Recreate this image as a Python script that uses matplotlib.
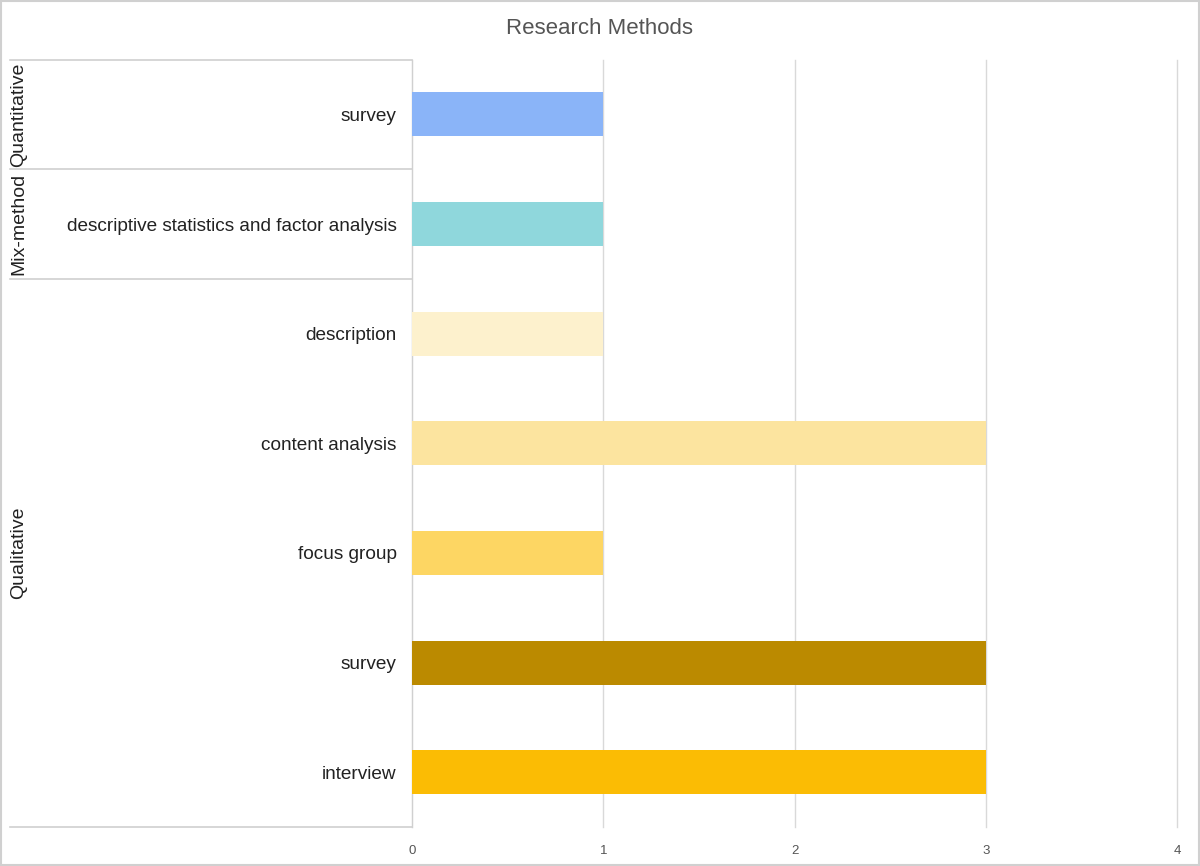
import matplotlib.pyplot as plt
from matplotlib.patches import Rectangle

plt.rcParams['font.family'] = ['Liberation Sans', 'DejaVu Sans']

# data, top to bottom
methods = ['survey', 'descriptive statistics and factor analysis', 'description',
           'content analysis', 'focus group', 'survey', 'interview']
counts = [1, 1, 1, 3, 1, 3, 3]
colors = ['#8ab4f8', '#8fd7dc', '#fdf1cd', '#fce49f', '#fdd663', '#bb8a00', '#fbbc04']
groups = ['Quantitative', 'Mix-method', 'Qualitative']
group_sizes = [1, 1, 5]

fig = plt.figure(figsize=(12, 8.66), dpi=100)
ax = fig.add_axes([0.3433, 0.045, 0.6377, 0.8862])

y = list(range(len(methods)))
ax.barh(y, counts, height=0.4, color=colors, zorder=3)
ax.set_ylim(len(methods) - 0.5, -0.5)
ax.set_xlim(0, 4)
ax.set_xticks([0, 1, 2, 3, 4])
ax.set_yticks(y)
ax.set_yticklabels(methods, fontsize=13.7)
ax.tick_params(axis='y', length=0, pad=11, labelcolor='#222222')
ax.tick_params(axis='x', length=0, pad=13, labelsize=9.5, labelcolor='#555555')
ax.grid(axis='x', color='#d9d9d9', linewidth=1, zorder=0)
for line in ax.get_xgridlines():
    line.set_clip_on(False)
for s in ['top', 'right', 'bottom']:
    ax.spines[s].set_visible(False)
ax.spines['left'].set_color('#d0d0d0')

# group separators and labels on the left
tr = ax.get_yaxis_transform()
x0 = -0.5255
start = -0.5
ax.plot([x0, 0], [start, start], transform=tr, color='#d0d0d0', lw=1.2, clip_on=False)
for g, n in zip(groups, group_sizes):
    end = start + n
    ax.plot([x0, 0], [end, end], transform=tr, color='#d0d0d0', lw=1.2, clip_on=False)
    ax.text(x0 + 0.012, (start + end) / 2, g, transform=tr, rotation=90,
            ha='center', va='center', fontsize=14, color='#222222')
    start = end

fig.text(0.5, 0.967, 'Research Methods', ha='center', va='center', fontsize=16, color='#555555')
fig.patches.append(Rectangle((0.001, 0.001), 0.998, 0.998, transform=fig.transFigure,
                             fill=False, edgecolor='#d0d0d0', lw=1.5))

fig.savefig('out.png', dpi=100)
